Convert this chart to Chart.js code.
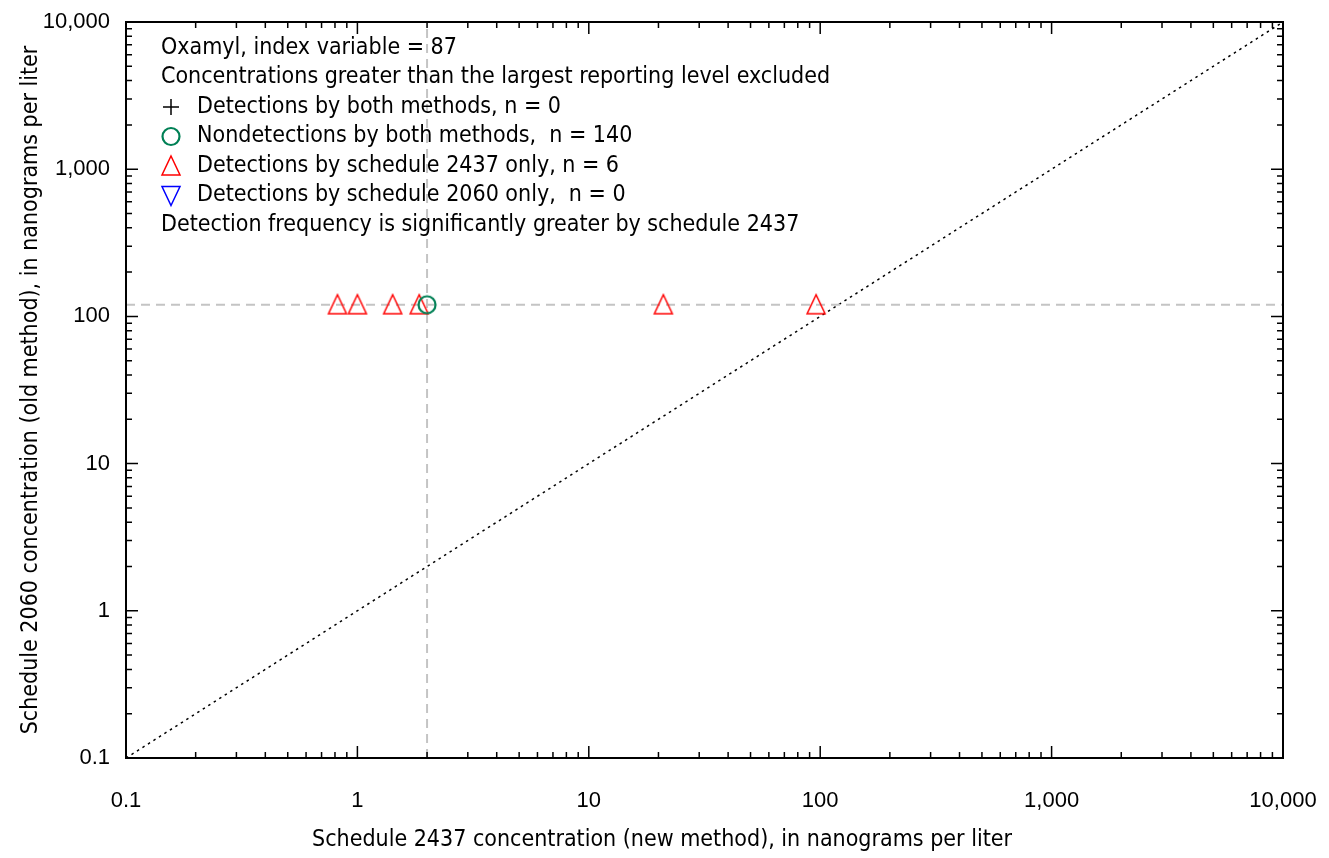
<!DOCTYPE html>
<html>
<head>
<meta charset="utf-8">
<script src="https://cdn.jsdelivr.net/npm/chart.js@4.4.1/dist/chart.umd.min.js"></script>
<style>
    body { margin: 0; background: #fff; }
    #contenedor { width: 1329px; height: 858px; }
</style>
</head>
<body>
<div id="contenedor"><canvas id="graficoOxamyl"></canvas></div>
<script>
// Datos
const det2437X = [0.82, 1.0, 1.42, 1.85, 21, 96];
const det2437Y = [120, 120, 120, 120, 120, 120];
const noDetX = [2];
const noDetY = [120];
const nivelReporte2437 = 2;   // línea vertical
const nivelReporte2060 = 120; // línea horizontal
const marcasMayores = [0.1, 1, 10, 100, 1000, 10000];
const etiquetasMarcas = ['0.1', '1', '10', '100', '1,000', '10,000'];
const tituloX = 'Schedule 2437 concentration (new method), in nanograms per liter';
const tituloY = 'Schedule 2060 concentration (old method), in nanograms per liter';
const lineasLeyenda = [
    'Oxamyl, index variable = 87',
    'Concentrations greater than the largest reporting level excluded',
    'Detections by both methods, n = 0',
    'Nondetections by both methods,  n = 140',
    'Detections by schedule 2437 only, n = 6',
    'Detections by schedule 2060 only,  n = 0',
    'Detection frequency is significantly greater by schedule 2437'
];
const simbolosLeyenda = [null, null, 'cruz', 'circulo', 'triangulo', 'trianguloAbajo', null];

const fuente = "'Liberation Sans Narrow', 'DejaVu Sans Condensed', sans-serif";
const fuenteMarcas = "'Liberation Sans', Arial, sans-serif";
const ROJO = '#ff0000';
const VERDE = '#008055';
const AZUL = '#0000ff';
const GRIS = '#c4c4c4';

// Dibuja un símbolo en el contexto
function dibujarSimbolo(ctx, tipo, x, y) {
    ctx.save();
    ctx.lineWidth = 1.5;
    ctx.beginPath();
    if (tipo === 'cruz') {
        ctx.strokeStyle = '#000';
        ctx.moveTo(x - 8, y); ctx.lineTo(x + 8, y);
        ctx.moveTo(x, y - 8); ctx.lineTo(x, y + 8);
    } else if (tipo === 'circulo') {
        ctx.strokeStyle = VERDE;
        ctx.lineWidth = 2.2;
        ctx.arc(x, y, 8.5, 0, Math.PI * 2);
    } else if (tipo === 'triangulo') {
        ctx.strokeStyle = ROJO;
        ctx.moveTo(x, y - 10); ctx.lineTo(x + 9, y + 9); ctx.lineTo(x - 9, y + 9); ctx.closePath();
    } else if (tipo === 'trianguloAbajo') {
        ctx.strokeStyle = AZUL;
        ctx.moveTo(x, y + 10); ctx.lineTo(x + 9, y - 9); ctx.lineTo(x - 9, y - 9); ctx.closePath();
    }
    ctx.stroke();
    ctx.restore();
}

// Imágenes para los puntos
function crearImagen(tipo) {
    const c = document.createElement('canvas');
    c.width = 24; c.height = 24;
    dibujarSimbolo(c.getContext('2d'), tipo, 12, 12);
    return c;
}
const imgTriangulo = crearImagen('triangulo');
const imgCirculo = crearImagen('circulo');

function pares(xs, ys) {
    return xs.map((x, i) => ({ x: x, y: ys[i] }));
}

// Marco y marcas hacia adentro en los cuatro lados
const marcoPlugin = {
    id: 'marco',
    afterDraw(chart) {
        const { ctx, chartArea: a, scales } = chart;
        ctx.save();
        ctx.strokeStyle = '#000';
        ctx.lineWidth = 1.5;
        ctx.beginPath();
        for (let d = 0.1; d < 10000; d *= 10) {
            for (let k = 1; k <= 10; k++) {
                const v = d * k;
                const largo = (k === 1 || k === 10) ? 12 : 6;
                const px = scales.x.getPixelForValue(v);
                const py = scales.y.getPixelForValue(v);
                ctx.moveTo(px, a.bottom); ctx.lineTo(px, a.bottom - largo);
                ctx.moveTo(px, a.top); ctx.lineTo(px, a.top + largo);
                ctx.moveTo(a.left, py); ctx.lineTo(a.left + largo, py);
                ctx.moveTo(a.right, py); ctx.lineTo(a.right - largo, py);
            }
        }
        ctx.stroke();
        ctx.lineWidth = 2;
        ctx.strokeRect(a.left, a.top, a.right - a.left, a.bottom - a.top);
        ctx.restore();
    }
};

// Leyenda con texto dentro del área y título del eje x
const leyendaPlugin = {
    id: 'leyenda',
    afterDraw(chart) {
        const { ctx } = chart;
        ctx.save();
        ctx.font = '23px ' + fuente;
        ctx.fillStyle = '#000';
        ctx.textBaseline = 'middle';
        lineasLeyenda.forEach((texto, i) => {
            const y = 48 + i * 29.5;
            const simbolo = simbolosLeyenda[i];
            if (simbolo) {
                dibujarSimbolo(ctx, simbolo, 171, y);
                ctx.fillText(texto, 197, y);
            } else {
                ctx.fillText(texto, 161, y);
            }
        });
        ctx.textAlign = 'center';
        ctx.fillText(tituloX, 662, 840);
        ctx.restore();
    }
};

const ctx = document.getElementById('graficoOxamyl').getContext('2d');

function escalaLog(titulo, esX) {
    return {
        type: 'logarithmic',
        min: 0.1,
        max: 10000,
        afterBuildTicks: (s) => {
            s.ticks = marcasMayores.map((v) => ({ value: v }));
        },
        afterFit: (s) => {
            if (esX) s.height = 100; else s.width = 126;
            s.paddingTop = 0; s.paddingBottom = 0;
            s.paddingLeft = 0; s.paddingRight = 0;
        },
        ticks: {
            autoSkip: false,
            maxRotation: 0,
            padding: esX ? 30 : 16,
            color: '#000',
            font: { family: fuenteMarcas, size: 22 },
            callback: (v) => etiquetasMarcas[marcasMayores.indexOf(v)]
        },
        grid: { display: false, drawTicks: false },
        border: { display: false },
        title: {
            display: !esX,
            text: titulo,
            color: '#000',
            font: { family: fuente, size: 23 },
            padding: { top: 17, bottom: 0 }
        }
    };
}

new Chart(ctx, {
    type: 'scatter',
    data: {
        datasets: [
            {
                label: 'Nondetections by both methods',
                data: pares(noDetX, noDetY),
                pointStyle: imgCirculo
            },
            {
                label: 'Detections by schedule 2437 only',
                data: pares(det2437X, det2437Y),
                pointStyle: imgTriangulo
            },
            {
                label: 'Nivel 2060',
                data: [{ x: 0.1, y: nivelReporte2060 }, { x: 10000, y: nivelReporte2060 }],
                showLine: true,
                borderColor: GRIS,
                borderWidth: 2,
                borderDash: [9, 6],
                pointRadius: 0
            },
            {
                label: 'Nivel 2437',
                data: [{ x: nivelReporte2437, y: 0.1 }, { x: nivelReporte2437, y: 10000 }],
                showLine: true,
                borderColor: GRIS,
                borderWidth: 2,
                borderDash: [9, 6],
                pointRadius: 0
            },
            {
                label: 'Linea 1:1',
                data: [{ x: 0.1, y: 0.1 }, { x: 10000, y: 10000 }],
                showLine: true,
                borderColor: '#000',
                borderWidth: 1.5,
                borderDash: [2.5, 4],
                pointRadius: 0
            }
        ]
    },
    options: {
        responsive: true,
        maintainAspectRatio: false,
        animation: false,
        layout: { padding: { top: 22, right: 46, left: 0, bottom: 0 } },
        plugins: {
            legend: { display: false },
            tooltip: { enabled: false }
        },
        scales: {
            x: escalaLog(tituloX, true),
            y: escalaLog(tituloY, false)
        }
    },
    plugins: [marcoPlugin, leyendaPlugin]
});
</script>
</body>
</html>
